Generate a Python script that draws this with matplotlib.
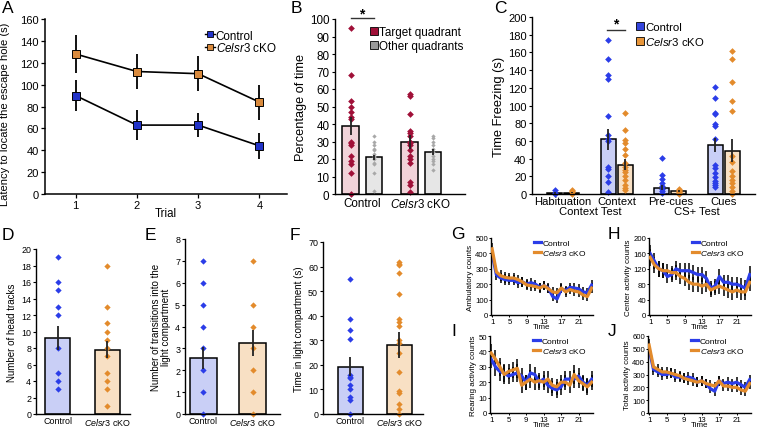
import numpy as np
import matplotlib
matplotlib.use('Agg')
import matplotlib.pyplot as plt
from matplotlib.lines import Line2D

# ---- data ----
trials = [1, 2, 3, 4]
a_ctrl = [90, 63, 63, 44]
a_ctrl_err = [14, 14, 11, 12]
a_cko = [128, 112, 110, 84]
a_cko_err = [17, 16, 16, 16]

b_groups = ['Control', 'Celsr3 cKO']
b_target_mean = [39, 30]
b_target_sem = [5, 4]
b_other_mean = [21, 24]
b_other_sem = [1.5, 1.5]
b_target_pts_ctrl = [95, 68, 53, 50, 47, 44, 43, 30, 29, 28, 22, 19, 17, 12, 0]
b_target_pts_cko = [57, 56, 46, 36, 35, 33, 30, 29, 28, 25, 22, 20, 18, 7, 5, 1]
b_other_pts_ctrl = [33, 30, 28, 26, 25, 23, 22, 21, 20, 18, 17, 12, 2]
b_other_pts_cko = [33, 32, 30, 28, 26, 24, 22, 20, 19, 17, 14]

c_phases = ['Habituation', 'Context', 'Pre-cues', 'Cues']
c_ctrl_mean = [1, 62, 7, 55]
c_ctrl_sem = [0.8, 12, 3, 8]
c_cko_mean = [1.5, 33, 3, 49]
c_cko_sem = [0.8, 6, 1, 13]
c_ctrl_pts = [
    [4, 1, 0],
    [174, 153, 134, 130, 88, 67, 62, 60, 30, 28, 20, 13, 2],
    [41, 21, 17, 12, 9, 6, 3, 1],
    [121, 108, 92, 90, 79, 77, 62, 33, 29, 24, 19, 15, 12, 10, 8],
]
c_cko_pts = [
    [5, 3, 2, 0],
    [92, 72, 61, 58, 51, 44, 35, 30, 27, 25, 20, 16, 10, 7, 5],
    [6, 4, 3, 2, 1, 0],
    [162, 152, 126, 105, 94, 43, 36, 26, 20, 16, 12, 8, 3, 0],
]

d_mean = [9.2, 7.8]
d_sem = [1.5, 1.0]
d_ctrl_pts = [19, 16, 15, 13, 12, 8, 5, 4, 3]
d_cko_pts = [18, 13, 11, 10, 9, 8, 7, 5, 4, 3, 1]

e_mean = [2.55, 3.25]
e_sem = [0.5, 0.6]
e_ctrl_pts = [7, 6, 5, 4, 3, 2, 1, 0]
e_cko_pts = [7, 5, 4, 3, 2, 1, 0]

f_mean = [19.3, 28]
f_sem = [3.8, 5.2]
f_ctrl_pts = [55, 38.5, 34, 30.5, 16, 15, 14.5, 12, 10, 7, 5.5, 0]
f_cko_pts = [62, 61, 60.5, 57.5, 49, 38.5, 37.5, 36, 30, 29, 25, 17, 9.5, 8.5, 4, 2, 0]

time = list(range(1, 25))
g_ctrl = [400, 260, 240, 230, 225, 225, 210, 215, 200, 210, 200, 180, 190, 175, 120, 105,
          170, 160, 180, 175, 170, 150, 145, 195]
g_cko = [430, 280, 255, 245, 240, 240, 230, 215, 195, 190, 185, 175, 190, 170, 150, 145,
         175, 150, 165, 155, 150, 130, 120, 175]
g_err = [40, 35, 35, 35, 32, 32, 32, 32, 32, 32, 30, 30, 30, 30, 30, 28,
         30, 30, 30, 30, 30, 30, 30, 32]
h_ctrl = [160, 140, 120, 115, 100, 105, 120, 115, 115, 115, 110, 105, 105, 95, 70, 75,
          100, 85, 85, 80, 80, 75, 70, 105]
h_cko = [150, 130, 120, 115, 115, 110, 110, 100, 95, 85, 80, 80, 75, 80, 65, 70,
         75, 70, 65, 60, 65, 60, 60, 85]
h_err = [22, 20, 20, 20, 18, 18, 20, 20, 20, 20, 20, 20, 20, 20, 18, 18,
         20, 20, 20, 20, 20, 20, 20, 22]
i_ctrl = [35, 30, 27, 26, 24, 25, 26, 24, 20, 26, 25, 20, 22, 18, 16, 15,
          17, 22, 22, 22, 24, 20, 18, 22]
i_cko = [39, 35, 30, 25, 27, 28, 29, 18, 20, 22, 20, 21, 20, 22, 18, 17,
         20, 20, 18, 25, 21, 19, 17, 20]
i_err = [6, 6, 6, 6, 5, 5, 6, 5, 5, 6, 5, 5, 5, 5, 5, 5,
         5, 5, 5, 6, 5, 5, 5, 5]
j_ctrl = [500, 340, 320, 300, 300, 310, 280, 280, 270, 280, 270, 240, 250, 230, 190, 170,
          250, 230, 240, 230, 240, 220, 200, 260]
j_cko = [530, 360, 340, 320, 320, 310, 300, 290, 270, 260, 250, 240, 250, 230, 220, 210,
         250, 210, 210, 200, 200, 180, 170, 230]
j_err = [45, 40, 40, 40, 38, 38, 40, 40, 40, 40, 38, 38, 38, 38, 38, 35,
         38, 38, 38, 38, 38, 38, 38, 40]

# ---- style ----
plt.rcParams['font.family'] = ['Liberation Sans', 'DejaVu Sans']
plt.rcParams['mathtext.fontset'] = 'custom'
plt.rcParams['mathtext.it'] = 'Liberation Sans:italic'
plt.rcParams['mathtext.rm'] = 'Liberation Sans'
CKO = r'$\mathit{Celsr3}$ cKO'

BLUE = '#2b3de8'
ORANGE = '#e38b2c'
BLUE_FILL = '#c9cff6'
ORANGE_FILL = '#f8e0c4'
RED = '#a01038'
PINK = '#f1d3d9'
GRAY_FILL = '#e6e6e6'
GRAY_DOT = '#a8a8a8'

W, H = 757, 431
fig = plt.figure(figsize=(W / 100, H / 100), dpi=100)


def add_ax(l, r, t, b, lw=1.0):
    ax = fig.add_axes([l / W, 1 - b / H, (r - l) / W, (b - t) / H])
    ax.spines[['top', 'right']].set_visible(False)
    for s in ('left', 'bottom'):
        ax.spines[s].set_linewidth(lw)
    return ax


def letter(x, y, s):
    fig.text(x / W, 1 - y / H, s, fontsize=12.5, va='top', ha='left')


def dot_bar(ax, x, mean, sem, pts, fill, dot, width, ms=3.4):
    ax.bar(x, mean, width, color=fill, edgecolor='black', linewidth=1.1, zorder=1)
    ax.plot(np.full(len(pts), x), pts, 'D', color=dot, ms=ms, mec='none', zorder=2,
            clip_on=False)
    ax.errorbar(x, mean, yerr=sem, fmt='none', ecolor='#222222', elinewidth=1.3,
                capsize=0, zorder=3)


# ---- A ----
ax = add_ax(45, 287, 20, 195, lw=1.1)
ax.errorbar(trials, a_ctrl, yerr=a_ctrl_err, color='black', lw=1.2, elinewidth=1.3,
            capsize=0, marker='s', ms=5.5, mfc='#2233c8', mec='black', mew=0.7)
ax.errorbar(trials, a_cko, yerr=a_cko_err, color='black', lw=1.2, elinewidth=1.3,
            capsize=0, marker='s', ms=5.5, mfc='#d98a3d', mec='black', mew=0.7)
ax.set_xlim(0.5, 4.45)
ax.set_ylim(0, 160)
ax.set_xticks(trials)
ax.set_yticks(range(0, 161, 20))
ax.tick_params(labelsize=8, length=3, width=0.9, pad=1.5)
ax.set_xlabel('Trial', fontsize=8.3, labelpad=-2)
ax.set_ylabel('Latency to locate the escape hole (s)', fontsize=8, labelpad=1)
ax.yaxis.set_label_coords(-0.145, 0.46)
hA = [Line2D([], [], color='black', lw=1, marker='s', ms=4.5, mfc='#2233c8', mec='black', mew=0.6),
      Line2D([], [], color='black', lw=1, marker='s', ms=4.5, mfc='#d98a3d', mec='black', mew=0.6)]
ax.legend(hA, ['Control', CKO], loc='upper left', bbox_to_anchor=(0.66, 0.94),
          frameon=False, fontsize=8.4, handlelength=0.9, handletextpad=0.05,
          labelspacing=0.0, borderpad=0, borderaxespad=0)
letter(2, 1, 'A')

# ---- B ----
ax = add_ax(335, 465, 20, 195)
bx = np.arange(len(b_groups))
for i, (tp, op) in enumerate([(b_target_pts_ctrl, b_other_pts_ctrl),
                              (b_target_pts_cko, b_other_pts_cko)]):
    dot_bar(ax, bx[i] - 0.19, b_target_mean[i], b_target_sem[i], tp, PINK, RED, 0.29, ms=3.4)
    dot_bar(ax, bx[i] + 0.2, b_other_mean[i], b_other_sem[i], op, GRAY_FILL, GRAY_DOT, 0.27, ms=2.2)
ax.set_xlim(-0.46, 1.75)
ax.set_ylim(0, 100)
ax.set_yticks(range(0, 101, 10))
ax.set_xticks(bx, ['Control', CKO])
ax.tick_params(axis='x', length=0, pad=2, labelsize=8.4)
ax.tick_params(axis='y', labelsize=8.4, length=2.5, width=0.8, pad=1.5)
ax.set_ylabel('Percentage of time', fontsize=9.2, labelpad=2)
ax.plot([-0.19, 0.2], [100.5, 100.5], color='#333333', lw=1, clip_on=False)
ax.text(0.0, 103, '*', fontsize=10, ha='center', va='center', fontweight='bold')
hB = [Line2D([], [], ls='none', marker='s', ms=5.5, mfc=RED, mec='black', mew=0.6),
      Line2D([], [], ls='none', marker='s', ms=5.5, mfc='#9a9a9a', mec='black', mew=0.6)]
ax.legend(hB, ['Target quadrant', 'Other quadrants'], loc='upper left',
          bbox_to_anchor=(0.27, 0.96), frameon=False, fontsize=8.4, handlelength=0.6,
          handletextpad=0.15, labelspacing=0.2, borderpad=0, borderaxespad=0)
letter(291, 1, 'B')

# ---- C ----
ax = add_ax(532, 755, 18, 195)
cx = np.arange(len(c_phases))
for i in range(len(c_phases)):
    dot_bar(ax, cx[i] - 0.16, c_ctrl_mean[i], c_ctrl_sem[i], c_ctrl_pts[i], BLUE_FILL, BLUE, 0.28)
    dot_bar(ax, cx[i] + 0.16, c_cko_mean[i], c_cko_sem[i], c_cko_pts[i], ORANGE_FILL, ORANGE, 0.28)
ax.set_xlim(-0.58, 3.58)
ax.set_ylim(0, 200)
ax.set_yticks(range(0, 201, 20))
ax.set_xticks(cx, c_phases)
ax.tick_params(axis='x', length=0, pad=1.5, labelsize=8.1)
ax.tick_params(axis='y', labelsize=8, length=2.5, width=0.8, pad=1.5)
ax.set_ylabel('Time Freezing (s)', fontsize=9.3, labelpad=2)
xt = ax.get_xaxis_transform()
ax.text(0.5, -0.07, 'Context Test', transform=xt, ha='center', va='top', fontsize=8.1)
ax.text(2.5, -0.07, 'CS+ Test', transform=xt, ha='center', va='top', fontsize=8.1)
ax.plot([0.82, 1.15], [185, 185], color='#333333', lw=1, clip_on=False)
ax.text(0.985, 193, '*', fontsize=10, ha='center', va='center', fontweight='bold')
hC = [Line2D([], [], ls='none', marker='s', ms=5.5, mfc='#3344dd', mec='black', mew=0.6),
      Line2D([], [], ls='none', marker='s', ms=5.5, mfc='#e8963a', mec='black', mew=0.6)]
ax.legend(hC, ['Control', CKO], loc='upper left', bbox_to_anchor=(0.47, 0.97),
          frameon=False, fontsize=8.2, handlelength=0.6, handletextpad=0.15,
          labelspacing=0.2, borderpad=0, borderaxespad=0)
letter(494, 1, 'C')


# ---- D, E, F ----
def two_bar(box, mean, sem, ctrl_pts, cko_pts, xlim, width, ylim, yticks, ylabel):
    ax = add_ax(*box)
    dot_bar(ax, 0, mean[0], sem[0], ctrl_pts, BLUE_FILL, BLUE, width, ms=3.2)
    dot_bar(ax, 1, mean[1], sem[1], cko_pts, ORANGE_FILL, ORANGE, width, ms=3.2)
    ax.set_xlim(*xlim)
    ax.set_ylim(*ylim)
    ax.set_yticks(yticks)
    ax.set_xticks([0, 1], ['Control', CKO])
    ax.tick_params(axis='x', length=0, pad=1.5, labelsize=6.4)
    ax.tick_params(axis='y', labelsize=6.4, length=2, width=0.8, pad=1.5)
    ax.set_ylabel(ylabel, fontsize=7, labelpad=3, linespacing=1.0)
    return ax


two_bar((36, 130, 250, 415), d_mean, d_sem, d_ctrl_pts, d_cko_pts,
        (-0.435, 1.46), 0.5, (0, 20), range(0, 21, 2), 'Number of head tracks')
letter(2, 228, 'D')
two_bar((185, 280, 240, 415), e_mean, e_sem, e_ctrl_pts, e_cko_pts,
        (-0.37, 1.55), 0.54, (0, 8), range(0, 9),
        'Number of transitions into the\nlight compartment')
letter(145, 228, 'E')
two_bar((323, 423, 243, 415), f_mean, f_sem, f_ctrl_pts, f_cko_pts,
        (-0.56, 1.48), 0.51, (0, 70), range(0, 71, 10), 'Time in light compartment (s)')
letter(290, 228, 'F')


# ---- G-J ----
def time_panel(box, ctrl, cko, err, ymax, ystep, ylabel):
    ax = add_ax(*box)
    ax.errorbar(time, ctrl, yerr=err, fmt='none', ecolor='black', elinewidth=1.1,
                capsize=0, zorder=1)
    ax.errorbar(time, cko, yerr=err, fmt='none', ecolor='black', elinewidth=1.1,
                capsize=0, zorder=1)
    ax.plot(time, ctrl, color=BLUE, lw=2.3, zorder=2)
    ax.plot(time, cko, color=ORANGE, lw=2.3, zorder=3)
    ax.set_xlim(0.75, 24.3)
    ax.set_ylim(0, ymax)
    ax.set_yticks(range(0, ymax + 1, ystep))
    ax.set_xticks([1, 5, 9, 13, 17, 21])
    ax.tick_params(labelsize=5.6, length=1.5, width=0.7, pad=0.5)
    ax.set_xlabel('Time', fontsize=5.8, labelpad=-1)
    ax.set_ylabel(ylabel, fontsize=5.8, labelpad=1)
    hL = [Line2D([], [], color=BLUE, lw=2.3), Line2D([], [], color=ORANGE, lw=2.3)]
    ax.legend(hL, ['Control', CKO], loc='upper left', bbox_to_anchor=(0.42, 0.99),
              frameon=False, fontsize=6, handlelength=0.8, handletextpad=0.2,
              labelspacing=0.2, borderpad=0, borderaxespad=0)
    return ax


time_panel((491, 593, 239, 316), g_ctrl, g_cko, g_err, 500, 100, 'Ambulatory counts')
letter(451, 227, 'G')
time_panel((649, 751, 239, 316), h_ctrl, h_cko, h_err, 200, 40, 'Center activity counts')
letter(608, 227, 'H')
time_panel((490, 593, 337, 414), i_ctrl, i_cko, i_err, 50, 10, 'Rearing activity counts')
letter(451, 324, 'I')
time_panel((648, 751, 337, 414), j_ctrl, j_cko, j_err, 600, 100, 'Total activity counts')
letter(608, 324, 'J')

fig.savefig('out.png', dpi=100)
